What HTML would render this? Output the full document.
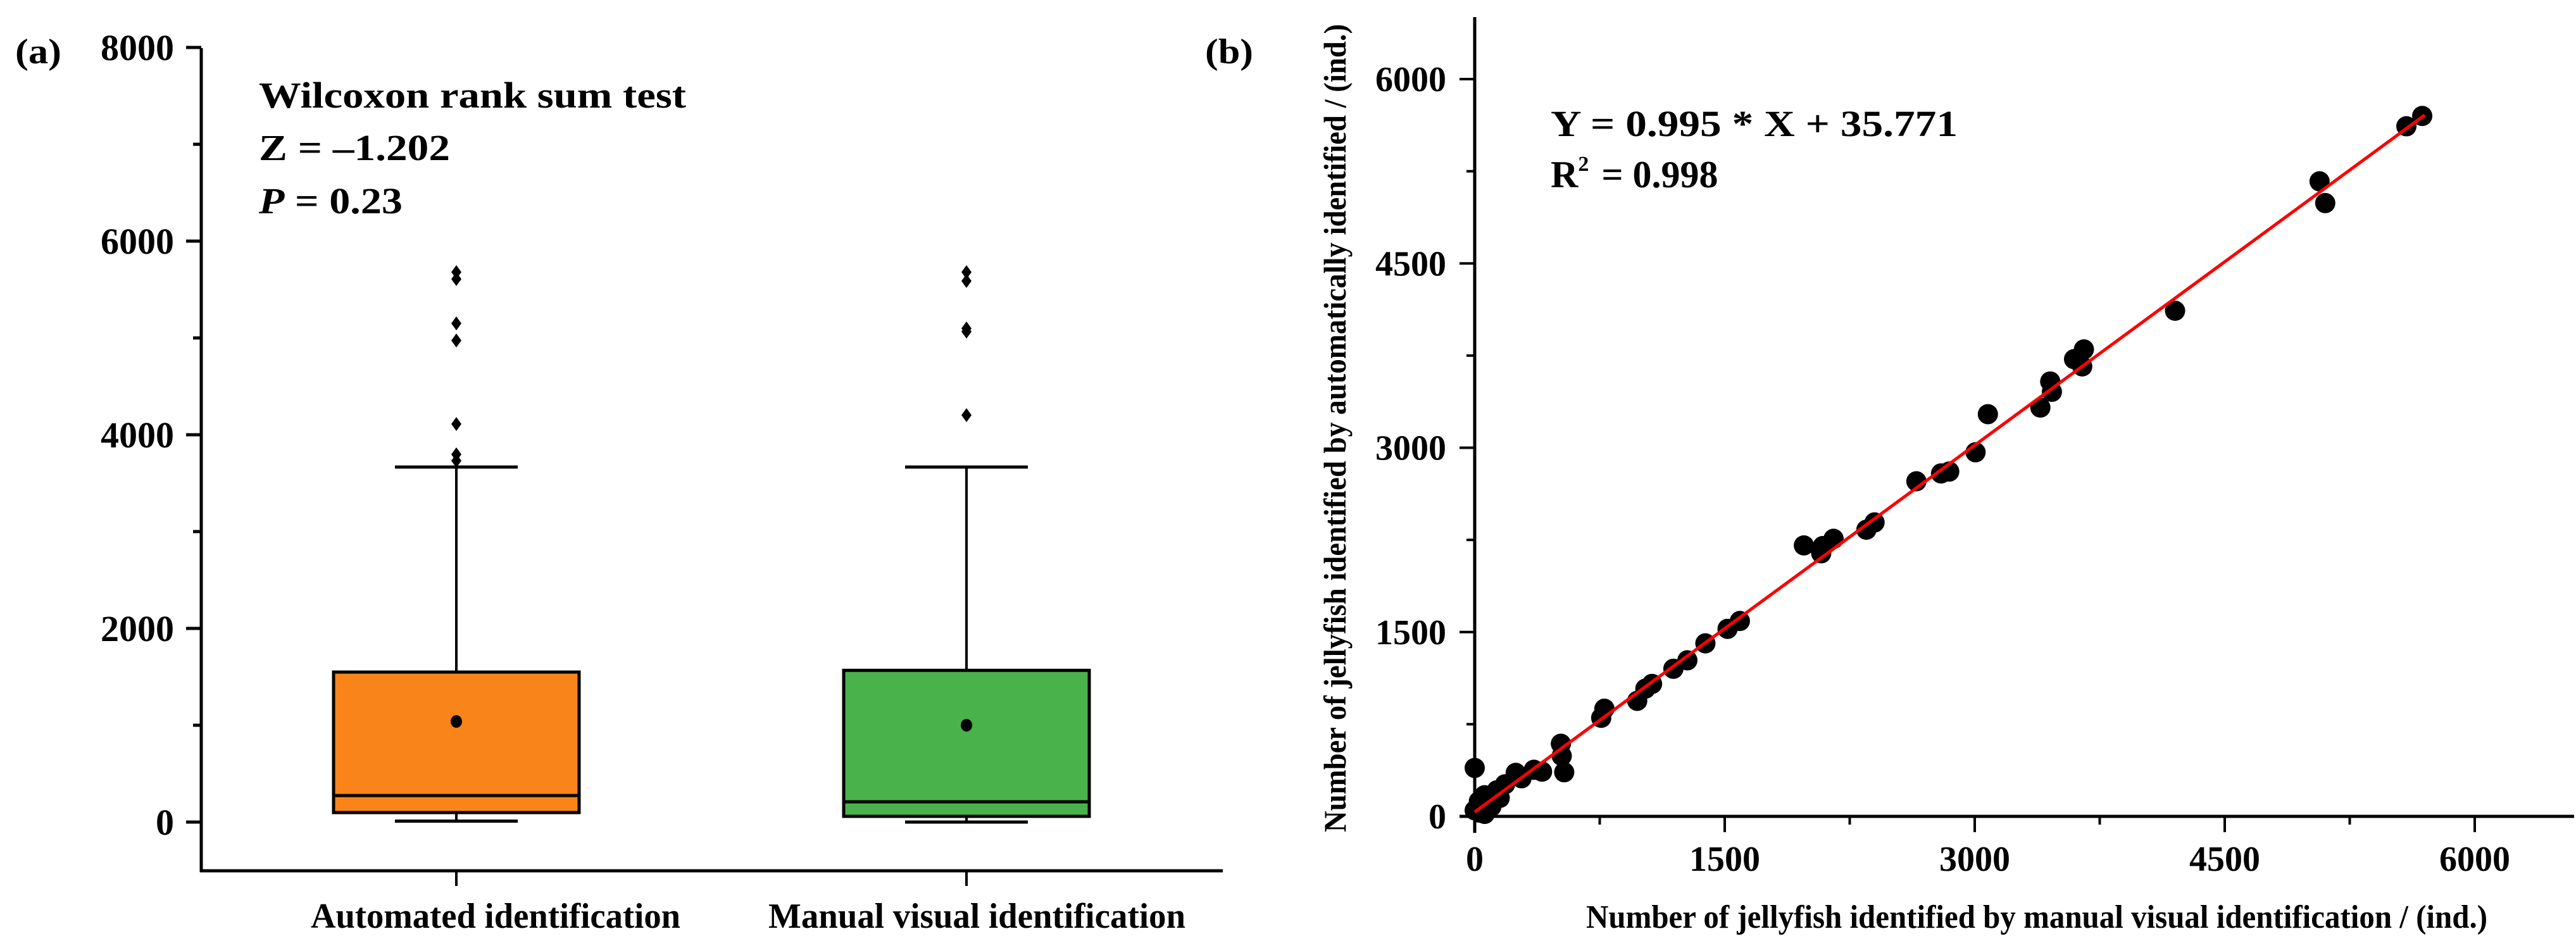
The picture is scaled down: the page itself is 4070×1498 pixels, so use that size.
<!DOCTYPE html>
<html><head><meta charset="utf-8"><style>
html,body{margin:0;padding:0;background:#fff;}
svg{display:block;}
text{font-family:"Liberation Serif",serif;font-weight:bold;fill:#000;}
</style></head><body>
<svg id="fig" width="4070" height="1498" viewBox="0 0 4070 1498" xmlns="http://www.w3.org/2000/svg">
<g id="pa"></g>
<g id="pb"></g>
</svg>
<script>
// ---------- Panel (a) data ----------
const boxCategories = ["Automated identification", "Manual visual identification"];
const boxColors = ["#f98419", "#49b24b"];
const boxMin = [10, 0];
const boxQ1 = [98, 59];
const boxMedian = [274, 209];
const boxQ3 = [1549, 1567];
const boxMean = [1039, 1000];
const boxWhiskerHigh = [3667, 3667];
const boxOutliers = [[5680, 5608, 5150, 4974, 4111, 3797, 3732], [5680, 5588, 5098, 5065, 4203]];
const aTicks = [0, 2000, 4000, 6000, 8000];
const aTickLabels = ["0", "2000", "4000", "6000", "8000"];
const aMinorTicks = [1000, 3000, 5000, 7000];

// ---------- Panel (b) data ----------
const manualX = [5685,5590,5069,5103,4202,3655,3596,3645,3453,3463,3394,3079,3005,2847,2798,2650,2399,2350,2153,2089,2079,1975,1591,1517,1384,1276,1192,1064,1024,975,778,759,517,522,537,404,355,281,246,182,133,59,0,25,0,49,84,150,100,30,110,60];
const autoY = [5700,5616,5168,4991,4115,3800,3721,3662,3539,3455,3327,3273,2963,2806,2791,2727,2392,2333,2259,2200,2141,2205,1590,1526,1408,1270,1201,1078,1039,940,876,802,591,492,359,364,379,310,354,261,212,172,394,123,49,49,98,150,80,30,120,20];
const fitSlope = 0.995;
const fitIntercept = 35.771;
const fitXRange = [0, 5700];
const bTicks = [0, 1500, 3000, 4500, 6000];
const bTickLabels = ["0", "1500", "3000", "4500", "6000"];
const bMinorTicks = [750, 2250, 3750, 5250];

const NS = "http://www.w3.org/2000/svg";
function mk(parent, tag, attrs, txt) {
  const e = document.createElementNS(NS, tag);
  for (const k in attrs) e.setAttribute(k, attrs[k]);
  if (txt !== undefined) e.textContent = txt;
  parent.appendChild(e);
  return e;
}

// ===== Panel a =====
const pa = document.getElementById("pa");
const aY = v => 1299 - v * 0.153;
const aCenters = [721, 1527];
const aX = i => aCenters[i];
const boxHalf = 194, capHalf = 97;

let e;
e = mk(pa, "line", {x1:318, y1:76, x2:318, y2:1378, stroke:"#000", "stroke-width":5});
 
e = mk(pa, "line", {x1:316, y1:1376, x2:1932, y2:1376, stroke:"#000", "stroke-width":5});
 

aTicks.forEach((v, i) => {
  const t = mk(pa, "line", {x1:294, y1:aY(v), x2:318, y2:aY(v), stroke:"#000", "stroke-width":5});
   
  const l = mk(pa, "text", {x:275, y:aY(v)+20, "text-anchor":"end", "font-size":58}, aTickLabels[i]);
   
});
aMinorTicks.forEach(v => {
  const t = mk(pa, "line", {x1:305, y1:aY(v), x2:318, y2:aY(v), stroke:"#000", "stroke-width":5});
   
});

const labelPos = [[491, 584], [1214, 659]];
boxCategories.forEach((c, i) => {
  const cx = aX(i);
  const g = mk(pa, "g", {});
   
  mk(g, "line", {x1:cx, y1:aY(boxQ3[i]), x2:cx, y2:aY(boxWhiskerHigh[i]), stroke:"#000", "stroke-width":4});
  mk(g, "line", {x1:cx, y1:aY(boxQ1[i]), x2:cx, y2:aY(boxMin[i]), stroke:"#000", "stroke-width":4});
  mk(g, "line", {x1:cx-capHalf, y1:aY(boxWhiskerHigh[i]), x2:cx+capHalf, y2:aY(boxWhiskerHigh[i]), stroke:"#000", "stroke-width":5});
  mk(g, "line", {x1:cx-capHalf, y1:aY(boxMin[i]), x2:cx+capHalf, y2:aY(boxMin[i]), stroke:"#000", "stroke-width":5});
  mk(g, "rect", {x:cx-boxHalf, y:aY(boxQ3[i]), width:boxHalf*2, height:aY(boxQ1[i])-aY(boxQ3[i]), fill:boxColors[i], stroke:"#000", "stroke-width":5});
  mk(g, "line", {x1:cx-boxHalf, y1:aY(boxMedian[i]), x2:cx+boxHalf, y2:aY(boxMedian[i]), stroke:"#000", "stroke-width":5});
  mk(g, "ellipse", {cx:cx, cy:aY(boxMean[i]), rx:9, ry:10, fill:"#000"});
  boxOutliers[i].forEach(v => {
    const y = aY(v);
    const d = mk(g, "polygon", {points:`${cx},${y-11} ${cx+8},${y} ${cx},${y+11} ${cx-8},${y}`, fill:"#000"});
     
  });
  const t = mk(pa, "line", {x1:cx, y1:1376, x2:cx, y2:1400, stroke:"#000", "stroke-width":4});
   
  const l = mk(pa, "text", {x:labelPos[i][0], y:1466, "font-size":56, textLength:labelPos[i][1], lengthAdjust:"spacingAndGlyphs"}, c);
   
});

// ===== Panel b =====
const pb = document.getElementById("pb");
const bX = v => 2330 + v * (1580 / 6000);
const bY = v => 1290 - v * (1165 / 6000);

e = mk(pb, "line", {x1:2330, y1:27, x2:2330, y2:1316, stroke:"#000", "stroke-width":5});
 
e = mk(pb, "line", {x1:2306, y1:1290, x2:4067, y2:1290, stroke:"#000", "stroke-width":5});
 

bTicks.forEach((v, i) => {
  const t = mk(pb, "line", {x1:bX(v), y1:1290, x2:bX(v), y2:1315, stroke:"#000", "stroke-width":4});
   
  const l = mk(pb, "text", {x:bX(v), y:1376, "text-anchor":"middle", "font-size":56}, bTickLabels[i]);
   
  const t2 = mk(pb, "line", {x1:2306, y1:bY(v), x2:2330, y2:bY(v), stroke:"#000", "stroke-width":4});
   
  const l2 = mk(pb, "text", {x:2285, y:bY(v)+19, "text-anchor":"end", "font-size":56}, bTickLabels[i]);
   
});
bMinorTicks.forEach(v => {
  const t = mk(pb, "line", {x1:bX(v), y1:1290, x2:bX(v), y2:1303, stroke:"#000", "stroke-width":4});
   
  const t2 = mk(pb, "line", {x1:2317, y1:bY(v), x2:2330, y2:bY(v), stroke:"#000", "stroke-width":4});
   
});

manualX.forEach((x, i) => {
  const p = mk(pb, "circle", {cx:bX(x), cy:bY(autoY[i]), r:16, fill:"#000"});
   
});
e = mk(pb, "line", {x1:bX(fitXRange[0]), y1:bY(fitSlope*fitXRange[0]+fitIntercept), x2:bX(fitXRange[1]), y2:bY(fitSlope*fitXRange[1]+fitIntercept), stroke:"#ff0000", "stroke-width":5});
 
</script>

<svg style="position:absolute;left:0;top:0" width="4070" height="1498" viewBox="0 0 4070 1498" xmlns="http://www.w3.org/2000/svg">
<text x="24" y="100" font-size="56" textLength="73" lengthAdjust="spacingAndGlyphs">(a)</text>
<text x="1904" y="100" font-size="56" textLength="76" lengthAdjust="spacingAndGlyphs">(b)</text>
<text x="409" y="170" font-size="58" textLength="675" lengthAdjust="spacingAndGlyphs">Wilcoxon rank sum test</text>
<text x="409" y="253" font-size="58" textLength="302" lengthAdjust="spacingAndGlyphs">Z = –1.202</text>
<text x="409" y="337" font-size="58" textLength="227" lengthAdjust="spacingAndGlyphs"><tspan font-style="italic">P</tspan> = 0.23</text>
<text x="2450" y="215" font-size="58" textLength="643" lengthAdjust="spacingAndGlyphs">Y = 0.995 * X + 35.771</text>
<text x="2450" y="296" font-size="60">R<tspan font-size="34" dy="-26">2</tspan><tspan dy="26" dx="20">= 0.998</tspan></text>
<text x="2506" y="1466" font-size="52" textLength="1424" lengthAdjust="spacingAndGlyphs">Number of jellyfish identified by manual visual identification / (ind.)</text>
<text transform="translate(2126,1315) rotate(-90)" x="0" y="0" font-size="50" textLength="1277" lengthAdjust="spacingAndGlyphs">Number of jellyfish identified by automatically identified / (ind.)</text>
</svg>
</body></html>
